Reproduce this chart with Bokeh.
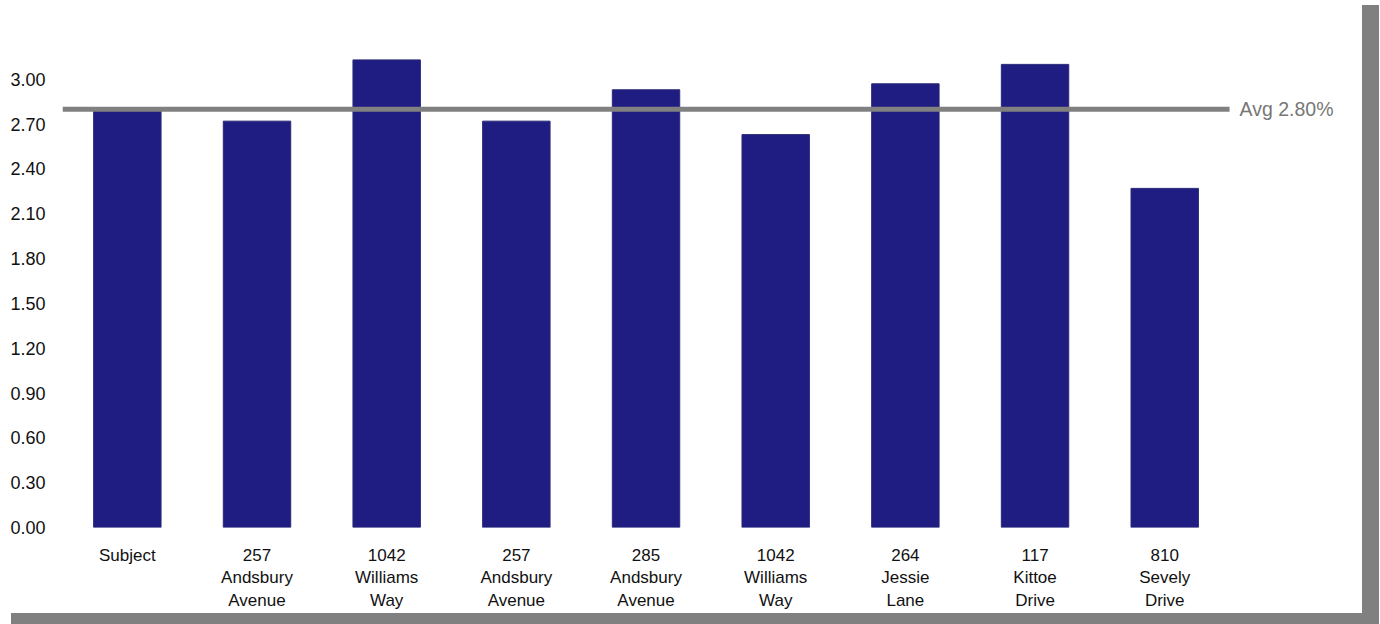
from bokeh.plotting import figure
from bokeh.models import Range1d, FixedTicker
from bokeh.core.properties import value
from bokeh.embed import file_html
from bokeh.resources import INLINE

# --- data ---
categories = ["Subject", "257\nAndsbury\nAvenue", "1042\nWilliams\nWay", "257\nAndsbury\nAvenue",
              "285\nAndsbury\nAvenue", "1042\nWilliams\nWay", "264\nJessie\nLane",
              "117\nKittoe\nDrive", "810\nSevely\nDrive"]
values = [2.79, 2.72, 3.13, 2.72, 2.93, 2.63, 2.97, 3.10, 2.27]
average = 2.80
avg_label = "Avg 2.80%"
y_ticks = [0.0, 0.3, 0.6, 0.9, 1.2, 1.5, 1.8, 2.1, 2.4, 2.7, 3.0]

FONT = "Liberation Sans"
n = len(categories)
xs = list(range(n))
x_lo, x_hi = -0.5, n - 0.5

p = figure(width=1362, height=613, output_backend="svg", toolbar_location=None,
           x_range=Range1d(x_lo, x_hi + 0.871), y_range=Range1d(0, 3.3),
           min_border_left=62, min_border_right=20, min_border_top=34, min_border_bottom=85)
p.styles = {"box-shadow": "14px 8px 0px 3px #808080"}
p.outline_line_color = None
p.grid.visible = False
p.background_fill_color = "white"
p.border_fill_color = "white"

p.vbar(x=xs, top=values, width=0.52, bottom=0, fill_color="#1F1D82", line_color="#2a2a78", line_width=1)

p.segment(x0=[x_lo], x1=[x_hi], y0=[average], y1=[average], line_color="#808080", line_width=5)
p.text(x=[x_hi], y=[average], text=[avg_label], x_offset=10, text_baseline="middle",
       text_font=value(FONT), text_font_size="19.5px", text_color="#777777")

# y axis
ya = p.yaxis[0]
ya.ticker = FixedTicker(ticks=y_ticks)
ya.major_label_overrides = {t: f"{t:.2f}" for t in y_ticks}
ya.axis_line_color = None
ya.major_tick_line_color = None
ya.minor_tick_line_color = None
ya.major_tick_out = 0
ya.major_label_standoff = 17
ya.major_label_text_font = FONT
ya.major_label_text_font_size = "18px"
ya.major_label_text_color = "#111111"

# x axis
xa = p.xaxis[0]
xa.ticker = FixedTicker(ticks=xs)
xa.major_label_overrides = {i: c for i, c in zip(xs, categories)}
xa.axis_line_color = None
xa.major_tick_line_color = None
xa.minor_tick_line_color = None
xa.major_tick_out = 0
xa.major_label_standoff = 18
xa.major_label_text_font = FONT
xa.major_label_text_font_size = "17px"
xa.major_label_text_color = "#111111"

open("out.html", "w").write(file_html(p, INLINE))
